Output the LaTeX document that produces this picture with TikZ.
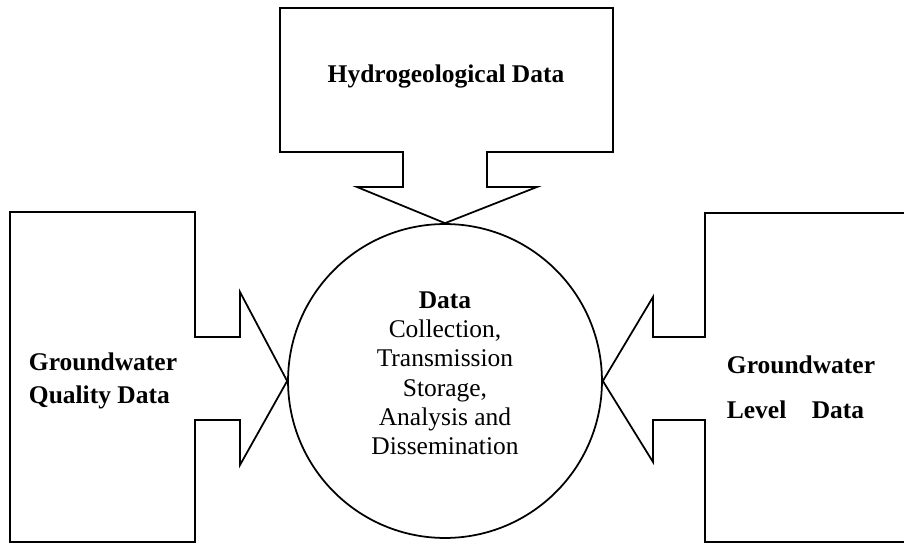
\documentclass[tikz,border=0pt]{standalone}
\usepackage{fontspec}
\setmainfont{Liberation Serif}
\usepackage{tikz}
\usetikzlibrary{shapes.geometric, positioning, calc}

\begin{document}
\begin{tikzpicture}[
    x=0.02cm, y=-0.02cm,
    callout/.style={draw, line width=1pt, line join=miter},
    hub/.style={circle, draw, line width=1pt, minimum size=6.28cm, inner sep=0pt, align=center, font=\fontsize{14.5}{16.7}\selectfont},
    label/.style={align=left, font=\fontsize{14.5}{18.7}\selectfont\bfseries}
]
    \useasboundingbox (0,0) rectangle (904,544);
    \clip (0,0) rectangle (904,544);

    % centre circle
    \node[hub] (hub) at (445,381) {\textbf{Data}\\Collection,\\Transmission\\Storage,\\Analysis and\\Dissemination\\[-7.7pt]};

    % top callout
    \draw[callout] (280,8) -- (613,8) -- (613,152) -- (487,152) -- (487,187) -- (537,187)
        -- (hub.north) -- (357,187) -- (403,187) -- (403,152) -- (280,152) -- cycle;
    \node[label] (hydro) at (446,76) {Hydrogeological Data};

    % left callout
    \draw[callout] (10,212) -- (195,212) -- (195,337) -- (240,337) -- (240,292)
        -- (hub.west) -- (240,465) -- (240,420) -- (195,420) -- (195,542) -- (10,542) -- cycle;
    \node[label] (quality) at (103,381) {Groundwater\\Quality Data};

    % right callout
    \draw[callout] (912,213) -- (705,213) -- (705,337) -- (653,337) -- (653,297)
        -- (hub.east) -- (653,462) -- (653,420) -- (705,420) -- (705,542) -- (912,542);
    \node[label, font=\fontsize{14.5}{25.5}\selectfont\bfseries] (level) at (801,387) {Groundwater\\Level\quad Data};
\end{tikzpicture}
\end{document}
